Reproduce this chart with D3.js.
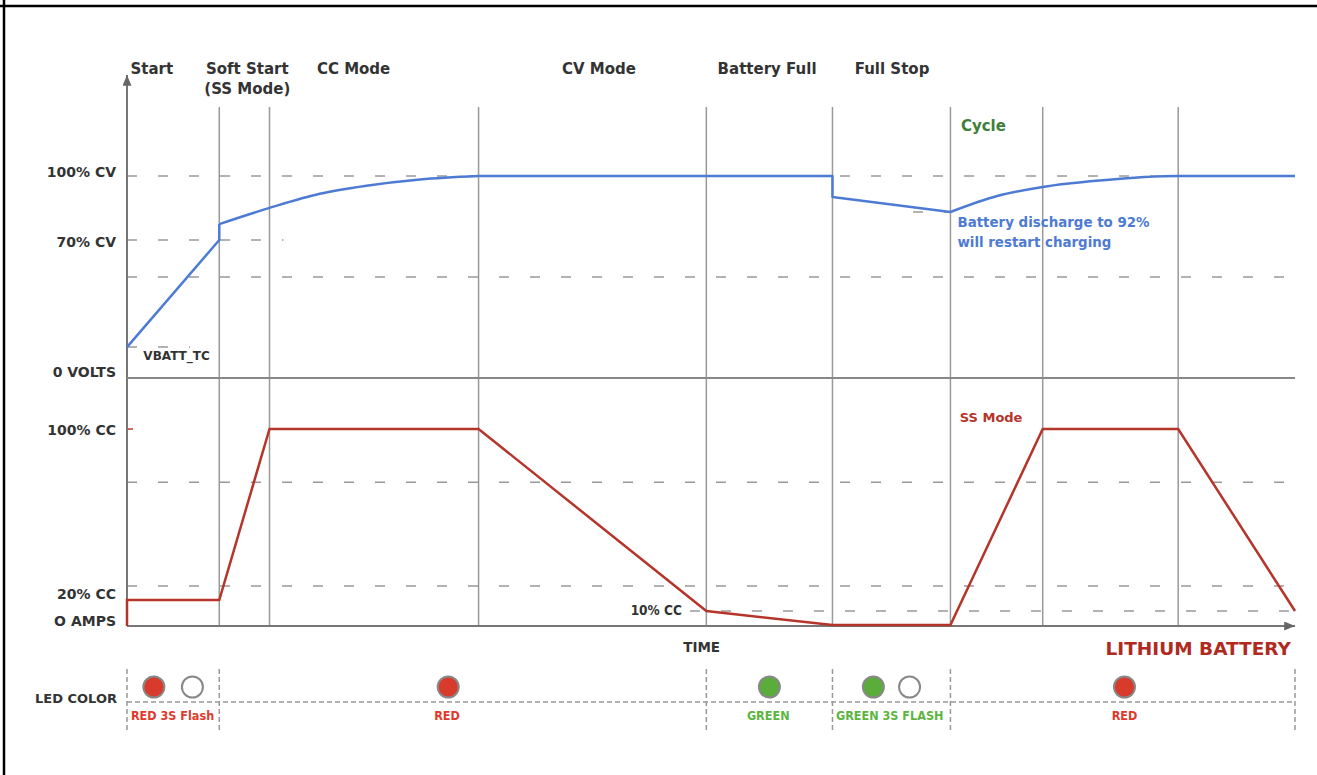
<!DOCTYPE html>
<html>
<head>
<meta charset="utf-8">
<script src="https://cdn.jsdelivr.net/npm/d3@7/dist/d3.min.js"></script>
<style>
  body { margin: 0; background: #fff; }
  text { font-family: "DejaVu Sans", Verdana, sans-serif; font-weight: bold; }
  .cond { font-family: "DejaVu Sans Condensed", "DejaVu Sans", sans-serif; font-stretch: condensed; }
</style>
</head>
<body>
<svg width="1317" height="775"></svg>
<script>
// time runs 0..100 (arbitrary units), voltage and current in % of full
const phaseLines = [7.9, 12.2, 30.1, 49.6, 60.4, 70.5, 78.4, 90.0];

const phaseNames = ["Start", "Soft Start", "CC Mode", "CV Mode", "Battery Full", "Full Stop"];
const phaseNameTimes = [0.3, 10.3, 19.4, 40.4, 54.8, 65.5];

// blue line, split so the curved parts can be smoothed
const voltRise = [[0, 15.3], [7.9, 68.3], [7.9, 76.2]];
const voltSoftCurve = [[7.9, 76.2], [12.2, 84.2], [16.5, 91.2], [20.5, 95.2], [25.1, 98.3], [30.1, 100]];
const voltHold = [[30.1, 100], [60.4, 100], [60.4, 89.6], [70.5, 82.2]];
const voltRecover = [[70.5, 82.2], [74.5, 90.1], [78.4, 94.6], [83.3, 97.8], [90, 100], [100, 100]];

// red line
const currentPts = [[0, 0], [0, 13.2], [7.9, 13.2], [12.2, 100], [30.1, 100], [49.6, 7.6],
  [60.4, 0.5], [70.5, 0.5], [78.4, 100], [90, 100], [100, 7.6]];

// dashed guides: [level, from, to]
const voltGuides = [[100, 0, 100], [50, 0, 100], [68.3, 0, 13.4], [15.3, 0, 5.4], [82.2, 67.3, 70.5]];
const currentGuides = [[73, 0, 100], [20.3, 0, 100], [7.6, 48.2, 100]];

const voltTickLabels = ["100% CV", "70% CV", "0 VOLTS"];
const voltTickPos = [102, 67.3, 3];
const currentTickLabels = ["100% CC", "20% CC", "O AMPS"];
const currentTickPos = [99.5, 16.2, 2.5];

// LED row
const ledBounds = [0, 7.9, 49.6, 60.4, 70.5, 100];
const ledTimes = [2.3, 5.6, 27.5, 55.0, 63.9, 67.0, 85.4];
const ledStates = ["red", "off", "red", "green", "green", "off", "red"];
const ledLabelTexts = ["RED 3S Flash", "RED", "GREEN", "GREEN 3S FLASH", "RED"];
const ledLabelTimes = [3.9, 27.4, 54.9, 65.3, 85.4];
const ledLabelStates = ["red", "red", "green", "green", "red"];

const ledFill = { red: "#d83a2b", green: "#5aad3b", off: "#fff" };
const ledText = { red: "#e03a2c", green: "#5cb540" };

const svg = d3.select("svg");
const x = d3.scaleLinear().domain([0, 100]).range([127, 1295]);
const yV = d3.scaleLinear().domain([0, 100]).range([378, 176]);
const yI = d3.scaleLinear().domain([0, 100]).range([626, 429]);

// frame
svg.append("line").attr("x1", 0).attr("x2", 1317).attr("y1", 6).attr("y2", 6)
  .attr("stroke", "#000").attr("stroke-width", 2.5);
svg.append("line").attr("x1", 4).attr("x2", 4).attr("y1", 0).attr("y2", 775)
  .attr("stroke", "#000").attr("stroke-width", 2.5);

const defs = svg.append("defs");
defs.append("marker").attr("id", "arrow").attr("viewBox", "0 0 12 10")
  .attr("refX", 12).attr("refY", 5).attr("markerWidth", 12).attr("markerHeight", 9)
  .attr("markerUnits", "userSpaceOnUse").attr("orient", "auto")
  .append("path").attr("d", "M0,0L12,5L0,10Z").attr("fill", "#666");

function drawGuides(guides, y) {
  svg.append("g").selectAll("line").data(guides).join("line")
    .attr("x1", (d) => x(d[1])).attr("x2", (d) => x(d[2]))
    .attr("y1", (d) => y(d[0])).attr("y2", (d) => y(d[0]))
    .attr("stroke", "#999").attr("stroke-width", 1.5).attr("stroke-dasharray", "10,21");
}
drawGuides(voltGuides, yV);
drawGuides(currentGuides, yI);

// phase dividers
svg.append("g").selectAll("line").data(phaseLines).join("line")
  .attr("x1", (d) => x(d)).attr("x2", (d) => x(d))
  .attr("y1", 107).attr("y2", yI(0))
  .attr("stroke", "#999").attr("stroke-width", 1.5);

// axes
svg.append("line").attr("x1", x(0)).attr("x2", x(0)).attr("y1", yI(0)).attr("y2", 75)
  .attr("stroke", "#777").attr("stroke-width", 2).attr("marker-end", "url(#arrow)");
svg.append("line").attr("x1", x(0)).attr("x2", x(100)).attr("y1", yV(0)).attr("y2", yV(0))
  .attr("stroke", "#888").attr("stroke-width", 2);
svg.append("line").attr("x1", x(0)).attr("x2", x(100)).attr("y1", yI(0)).attr("y2", yI(0))
  .attr("stroke", "#777").attr("stroke-width", 2).attr("marker-end", "url(#arrow)");
svg.append("line").attr("x1", x(0) + 1).attr("x2", x(0) + 6).attr("y1", yI(100)).attr("y2", yI(100))
  .attr("stroke", "#c0392b").attr("stroke-width", 1.5);

// voltage line
const lineStraight = d3.line().x((d) => x(d[0])).y((d) => yV(d[1]));
const lineSmooth = d3.line().x((d) => x(d[0])).y((d) => yV(d[1])).curve(d3.curveMonotoneX);
[[voltRise, lineStraight], [voltSoftCurve, lineSmooth], [voltHold, lineStraight], [voltRecover, lineSmooth]]
  .forEach(([pts, gen]) => {
    svg.append("path").attr("d", gen(pts)).attr("fill", "none")
      .attr("stroke", "#4d7bd3").attr("stroke-width", 2.5).attr("stroke-linejoin", "round");
  });

// current line
svg.append("path")
  .attr("d", d3.line().x((d) => x(d[0])).y((d) => yI(d[1]))(currentPts))
  .attr("fill", "none").attr("stroke", "#b5352b").attr("stroke-width", 2.5);

// tick labels
function drawTicks(labels, pos, y) {
  svg.append("g").selectAll("text").data(labels).join("text")
    .attr("x", 116).attr("y", (d, i) => y(pos[i])).attr("dy", "0.35em")
    .attr("text-anchor", "end").attr("font-size", 14).attr("fill", "#333")
    .text((d) => d);
}
drawTicks(voltTickLabels, voltTickPos, yV);
drawTicks(currentTickLabels, currentTickPos, yI);

// phase names
svg.append("g").selectAll("text").data(phaseNames).join("text")
  .attr("x", (d, i) => x(phaseNameTimes[i])).attr("y", 74)
  .attr("text-anchor", (d, i) => (i === 0 ? "start" : "middle"))
  .attr("font-size", 15).attr("fill", "#333").text((d) => d);
svg.append("text").attr("x", x(phaseNameTimes[1])).attr("y", 94).attr("text-anchor", "middle")
  .attr("font-size", 15).attr("fill", "#333").text("(SS Mode)");

// annotations
svg.append("text").attr("x", x(71.4)).attr("y", 131).attr("font-size", 15)
  .attr("fill", "#3f7f3a").text("Cycle");
svg.append("text").attr("x", x(71.1)).attr("y", 227).attr("font-size", 13.4)
  .attr("fill", "#4d7bd3").text("Battery discharge to 92%");
svg.append("text").attr("x", x(71.1)).attr("y", 247).attr("font-size", 13.4)
  .attr("fill", "#4d7bd3").text("will restart charging");
svg.append("text").attr("x", x(71.3)).attr("y", 422).attr("font-size", 13)
  .attr("fill", "#b5352b").text("SS Mode");
svg.append("text").attr("x", x(47.5)).attr("y", 615).attr("text-anchor", "end")
  .attr("class", "cond").attr("font-size", 13.5).attr("fill", "#333").text("10% CC");
svg.append("text").attr("x", x(1.4)).attr("y", 360).attr("font-size", 12)
  .attr("fill", "#333").text("VBATT_TC");
svg.append("text").attr("x", x(49.2)).attr("y", 652).attr("text-anchor", "middle")
  .attr("font-size", 13.5).attr("fill", "#333").text("TIME");
svg.append("text").attr("x", 1291).attr("y", 655).attr("text-anchor", "end")
  .attr("font-size", 18.5).attr("fill", "#b02a22").text("LITHIUM BATTERY");

// LED row
svg.append("text").attr("x", 117).attr("y", 698).attr("dy", "0.35em").attr("text-anchor", "end")
  .attr("font-size", 13).attr("fill", "#333").text("LED COLOR");
svg.append("line").attr("x1", x(0)).attr("x2", x(100)).attr("y1", 702).attr("y2", 702)
  .attr("stroke", "#999").attr("stroke-width", 1.5).attr("stroke-dasharray", "5,3");
svg.append("g").selectAll("line").data(ledBounds).join("line")
  .attr("x1", (d) => x(d)).attr("x2", (d) => x(d)).attr("y1", 669).attr("y2", 733)
  .attr("stroke", "#999").attr("stroke-width", 1.5).attr("stroke-dasharray", "5,3");
svg.append("g").selectAll("circle").data(ledTimes).join("circle")
  .attr("cx", (d) => x(d)).attr("cy", 687).attr("r", 10.5)
  .attr("fill", (d, i) => ledFill[ledStates[i]])
  .attr("stroke", "#888").attr("stroke-width", 2);
svg.append("g").selectAll("text").data(ledLabelTexts).join("text")
  .attr("class", "cond")
  .attr("x", (d, i) => x(ledLabelTimes[i])).attr("y", 716).attr("dy", "0.35em")
  .attr("text-anchor", "middle").attr("font-size", 12.5)
  .attr("fill", (d, i) => ledText[ledLabelStates[i]]).text((d) => d);
</script>
</body>
</html>
